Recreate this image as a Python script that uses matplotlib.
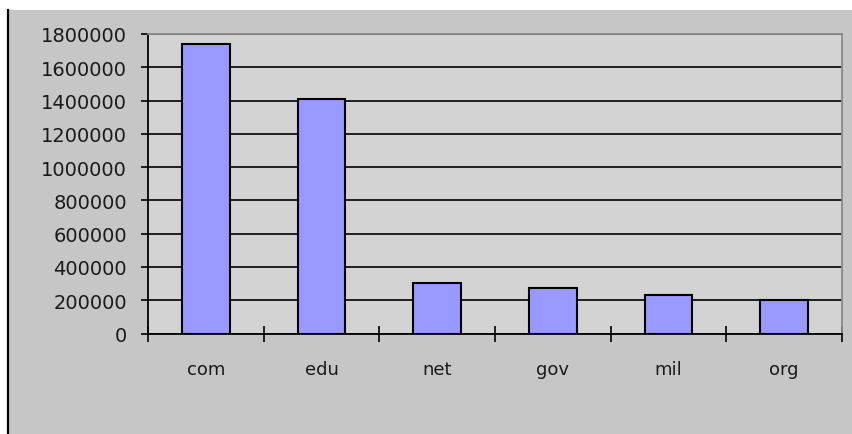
import matplotlib
matplotlib.use("Agg")
import matplotlib.pyplot as plt
from matplotlib.patches import Rectangle
from matplotlib.lines import Line2D
import numpy as np

categories = ["com", "edu", "net", "gov", "mil", "org"]
values = [1740000, 1410000, 305000, 275000, 232000, 203000]
yticks = [0, 200000, 400000, 600000, 800000, 1000000, 1200000, 1400000, 1600000, 1800000]

W, H = 853, 435
fig = plt.figure(figsize=(W / 100, H / 100), dpi=100)
fig.patch.set_facecolor("white")

# outer chart frame
fig.patches.append(Rectangle((9 / W, 0), 1 - 9 / W, (H - 11) / H, transform=fig.transFigure,
                             facecolor="#c6c6c6", edgecolor="none", zorder=-10))
fig.lines.append(Line2D([8 / W, 8 / W], [0, (H - 11) / H], transform=fig.transFigure,
                        color="black", lw=1.6, zorder=-9))

ax = fig.add_axes([148 / W, (H - 334.5) / H, (842 - 148) / W, (334.5 - 35) / H])
ax.set_facecolor("#d3d3d3")

x = np.arange(len(categories))
ax.bar(x, values, width=0.41, color="#9999ff", edgecolor="black", linewidth=1.5, zorder=3)

ax.set_xlim(-0.5, len(categories) - 0.5)
ax.set_ylim(0, 1800000)
ax.set_yticks(yticks)
ax.set_yticklabels([str(v) for v in yticks], fontsize=14, color="#1a1a1a")
ax.yaxis.grid(True, color="black", linewidth=1.2, zorder=1)
ax.set_axisbelow(True)
ax.tick_params(axis="y", direction="out", length=5, width=1.2, pad=10, color="black")

ax.set_xticks(x)
ax.set_xticklabels(categories, fontsize=13, color="#1a1a1a")
ax.set_xticks(np.arange(-0.5, len(categories)), minor=True)
ax.tick_params(axis="x", which="major", length=0, pad=19)
ax.tick_params(axis="x", which="minor", direction="inout", length=12, width=1.2, color="black")

for s in ["left", "bottom"]:
    ax.spines[s].set_color("black")
    ax.spines[s].set_linewidth(1.3)
for s in ["top", "right"]:
    ax.spines[s].set_color("#8a8a8a")
    ax.spines[s].set_linewidth(1.3)

fig.savefig("out.png", dpi=100, facecolor=fig.get_facecolor())
